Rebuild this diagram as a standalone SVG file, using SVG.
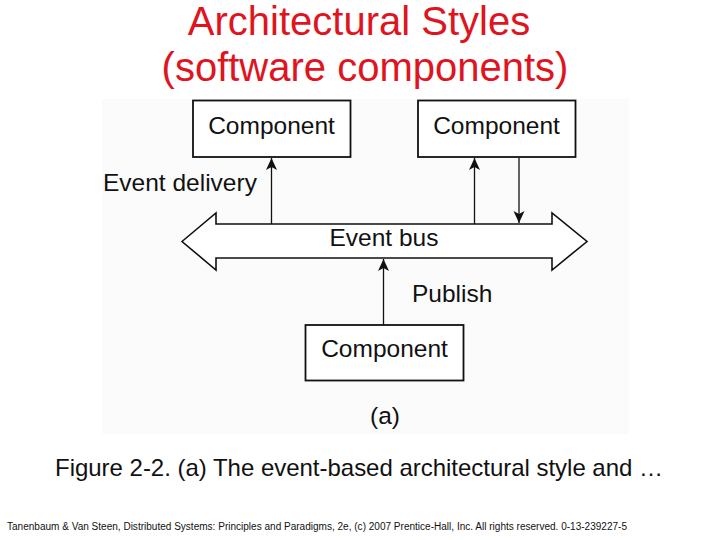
<svg xmlns="http://www.w3.org/2000/svg" width="720" height="540" viewBox="0 0 720 540">
<style>
text{font-family:"Liberation Sans",Arial,sans-serif;fill:#111}
.title{font-size:40px;fill:#e0141e;text-anchor:middle}
.lbl{font-size:24.5px}
.mid{text-anchor:middle}
.box{fill:#fff;stroke:#111;stroke-width:1.8}
.ln{stroke:#111;stroke-width:1.3;fill:none}
</style>
<defs>
<marker id="ah" viewBox="0 0 12 12" refX="12" refY="6" markerWidth="12" markerHeight="12" markerUnits="userSpaceOnUse" orient="auto">
<path d="M0,0.5 L12,6 L0,11.5 L3,6 Z" fill="#111"/>
</marker>
</defs>
<rect width="720" height="540" fill="#fff"/>
<rect x="102" y="99" width="527" height="335" fill="#fbfbfb"/>
<text class="title" x="359" y="35">Architectural Styles</text>
<text class="title" x="365" y="81">(software components)</text>
<g id="connectors">
<line class="ln" x1="271.5" y1="224" x2="271.5" y2="158" marker-end="url(#ah)"/>
<line class="ln" x1="474.5" y1="224" x2="474.5" y2="158" marker-end="url(#ah)"/>
<line class="ln" x1="519" y1="158" x2="519" y2="223" marker-end="url(#ah)"/>
<line class="ln" x1="383.5" y1="325" x2="383.5" y2="259" marker-end="url(#ah)"/>
</g>
<g id="event-bus">
<polygon points="182,241.5 216,213 216,224 552,224 552,213 587,241.5 552,270 552,258 216,258 216,270" fill="#fff" stroke="#111" stroke-width="1.6" stroke-linejoin="miter"/>
<text class="lbl mid" x="384" y="246">Event bus</text>
</g>
<g id="component-1">
<rect class="box" x="193" y="100.5" width="157.5" height="56.5"/>
<text class="lbl mid" x="271.5" y="134">Component</text>
</g>
<g id="component-2">
<rect class="box" x="418" y="100.5" width="157.5" height="56.5"/>
<text class="lbl mid" x="496.5" y="134">Component</text>
</g>
<g id="component-3">
<rect class="box" x="305.5" y="325" width="158" height="55.5"/>
<text class="lbl mid" x="384.5" y="357">Component</text>
</g>
<text class="lbl" x="103" y="191">Event delivery</text>
<text class="lbl" x="412" y="302">Publish</text>
<text class="lbl mid" x="385" y="424">(a)</text>
<text x="55" y="476" style="font-size:24px" textLength="608">Figure 2-2. (a) The event-based architectural style and …</text>
<text x="7" y="530" style="font-size:10px" textLength="620" lengthAdjust="spacingAndGlyphs">Tanenbaum &amp; Van Steen, Distributed Systems: Principles and Paradigms, 2e, (c) 2007 Prentice-Hall, Inc. All rights reserved. 0-13-239227-5</text>
</svg>
